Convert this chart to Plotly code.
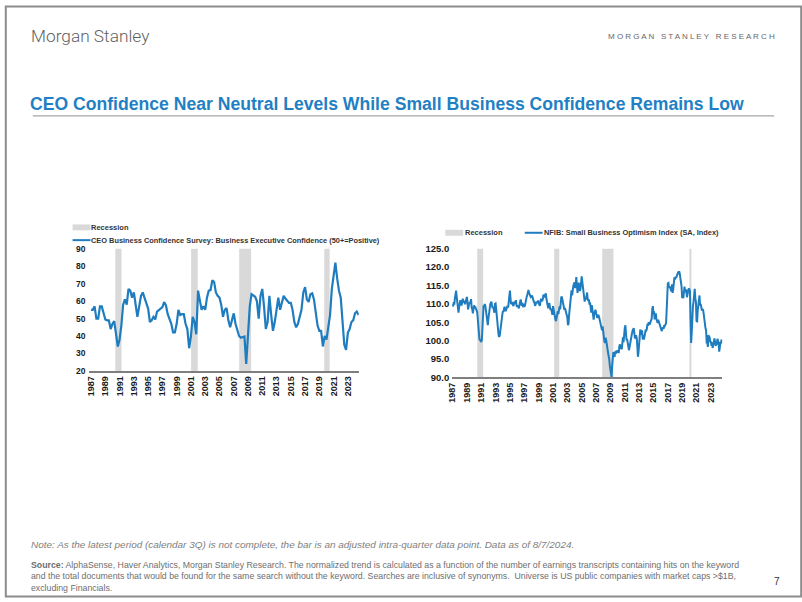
import plotly.graph_objects as go
import pandas as pd

# ---------------- data ----------------
# CEO Business Confidence (quarterly, 1987Q1 ...)
ceo_start = "1987-01-01"
ceo_values = [55, 55, 57, 50, 50, 57, 57, 52.5, 49.5, 49,
              49, 44, 47, 48.5, 42, 34, 38, 46, 58, 61,
              58, 67, 66, 62, 65, 58, 51, 57, 63, 65,
              62, 58.5, 55.7, 48, 49, 51, 49.5, 54, 55, 55.5,
              56.6, 59.5, 57.5, 52.5, 49.5, 47, 42, 42, 47, 55,
              52, 52.5, 52.5, 47, 44, 33, 40, 51, 48, 41,
              66, 61, 55, 57, 55, 62, 66, 66.3, 72, 71,
              65, 63, 62, 58, 51, 55, 56, 49, 45, 49,
              53, 47, 44, 40, 39, 39.3, 39.7, 24, 40, 57,
              64, 63, 62.5, 60, 50, 63, 67, 57, 44, 48,
              63, 52, 43, 48, 54, 62, 55, 60, 63, 61.5,
              60, 59, 59, 55, 48, 45, 47, 52, 55, 65,
              68, 61, 59.5, 64, 64.5, 61, 53, 46, 43, 43,
              34, 40, 38, 44, 52, 67, 76, 82, 73, 66,
              62, 47, 35, 32, 42, 44, 48, 49, 53, 54,
              52]

# NFIB Small Business Optimism Index (monthly, Jan 1987 ...)
nfib_start = "1987-01-01"
nfib_values = [
    110.0, 109.3, 110.5, 109.8, 111.5, 112.2, 113.6, 112.0, 109.5, 108.0, 107.6, 109.0,  # 1987
    110.5, 111.0, 110.2, 109.6, 110.1, 111.4, 111.0, 110.3, 110.8, 109.9, 110.6, 111.2,  # 1988
    111.9, 110.5, 108.5, 109.4, 110.4, 110.0, 110.8, 111.3, 109.0, 108.6, 107.4, 108.4,  # 1989
    109.6, 109.0, 109.3, 108.7, 108.2, 108.0, 106.5, 104.2, 101.6, 100.4, 100.2, 100.0,  # 1990
    99.6, 100.3, 104.5, 107.8, 109.6, 109.2, 110.0, 109.4, 107.5, 106.0, 104.8, 104.2,   # 1991
    106.0, 108.2, 109.2, 109.8, 110.3, 110.6, 109.7, 108.9, 109.2, 108.1, 107.6, 110.0,  # 1992
    110.1, 108.5, 106.5, 104.2, 102.3, 101.6, 101.0, 101.4, 102.8, 104.5, 106.4, 107.4,  # 1993
    108.0, 107.8, 108.6, 109.2, 108.5, 108.0, 108.6, 109.0, 109.5, 109.0, 110.2, 111.4,  # 1994
    113.6, 111.4, 109.9, 110.3, 110.5, 109.7, 109.4, 110.2, 110.6, 110.0, 111.0, 109.6,  # 1995
    109.2, 109.6, 109.0, 108.8, 109.7, 110.6, 111.2, 110.2, 109.5, 110.3, 109.1, 109.9,  # 1996
    109.2, 109.5, 110.8, 111.5, 111.9, 112.4, 113.4, 113.8, 113.0, 112.6, 112.2, 111.8,  # 1997
    111.9, 112.3, 111.6, 111.0, 110.6, 110.4, 109.5, 109.8, 110.6, 110.2, 110.5, 110.9,  # 1998
    110.2, 109.6, 109.5, 110.5, 111.4, 111.0, 110.7, 111.3, 112.5, 112.2, 111.8, 112.6,  # 1999
    112.9, 111.4, 110.5, 109.6, 108.8, 109.8, 110.2, 109.0, 108.3, 108.7, 107.4, 107.0,  # 2000
    109.4, 108.2, 107.0, 106.4, 105.8, 105.3, 106.2, 107.4, 108.0, 107.2, 108.8, 109.3,  # 2001
    108.5, 110.6, 112.0, 111.8, 110.8, 110.2, 109.4, 108.4, 108.9, 107.9, 107.4, 107.0,  # 2002
    106.3, 104.2, 104.6, 107.0, 108.5, 109.8, 111.4, 113.7, 112.3, 114.2, 114.9, 115.4,  # 2003
    115.9, 114.3, 115.0, 117.3, 115.4, 113.0, 114.2, 115.8, 114.6, 113.5, 114.1, 116.2,  # 2004
    117.5, 116.0, 114.3, 113.2, 111.3, 110.6, 111.8, 111.2, 112.0, 113.1, 111.4, 110.8,  # 2005
    111.2, 109.8, 110.4, 108.3, 107.6, 109.7, 108.4, 106.0, 105.7, 107.2, 107.9, 108.4,  # 2006
    107.6, 106.9, 106.2, 106.6, 107.0, 106.5, 105.7, 105.2, 104.5, 103.4, 102.8, 103.9,  # 2007
    102.0, 101.5, 99.8, 99.4, 100.8, 100.1, 98.5, 97.6, 96.8, 95.8, 95.0, 93.2,          # 2008
    91.6, 90.5, 90.0, 93.4, 96.2, 96.9, 96.0, 95.6, 97.1, 96.4, 97.3, 97.0,              # 2009
    96.8, 97.4, 96.6, 98.4, 99.0, 97.8, 98.9, 97.6, 99.8, 100.9, 99.6, 102.6,            # 2010
    103.4, 104.2, 101.3, 100.1, 100.4, 99.1, 98.2, 97.4, 98.2, 98.9, 100.3, 101.0,       # 2011
    101.9, 102.7, 103.0, 103.4, 102.1, 100.6, 100.9, 101.5, 100.7, 98.5, 95.6, 96.8,     # 2012
    98.5, 101.5, 103.0, 102.4, 101.6, 102.8, 100.3, 101.5, 100.3, 101.1, 102.0, 103.0,   # 2013
    102.8, 103.2, 104.6, 104.0, 105.0, 104.7, 104.4, 105.1, 105.5, 105.9, 108.6, 109.4,  # 2014
    107.2, 108.0, 105.8, 106.3, 107.4, 105.9, 105.4, 104.8, 105.7, 105.1, 104.6, 104.1,  # 2015
    104.0, 103.0, 102.6, 103.3, 103.6, 103.2, 104.2, 104.0, 104.4, 104.6, 108.0, 115.4,  # 2016
    115.6, 115.7, 114.4, 114.7, 114.4, 113.8, 113.4, 115.3, 113.0, 113.9, 116.5, 117.2,  # 2017
    116.6, 117.4, 117.1, 117.6, 117.8, 118.5, 118.4, 118.9, 118.2, 117.2, 116.8, 114.8,  # 2018
    111.6, 111.9, 111.6, 113.0, 114.7, 113.2, 113.8, 113.7, 111.8, 112.6, 114.2, 114.2,  # 2019
    114.0, 113.6, 105.8, 99.4, 102.1, 109.0, 109.4, 110.5, 113.3, 114.1, 111.5, 110.6,   # 2020
    105.4, 105.3, 108.1, 109.5, 109.4, 112.3, 109.6, 110.0, 109.1, 108.2, 108.5, 108.4,  # 2021
    107.3, 105.4, 103.6, 103.4, 102.9, 99.6, 99.7, 98.3, 101.5, 101.0, 100.9, 99.6,      # 2022
    99.8, 98.6, 99.5, 98.0, 98.6, 99.8, 100.6, 99.7, 98.6, 99.0, 99.1, 100.5,            # 2023
    99.5, 99.3, 97.0, 98.8, 99.4, 99.4, 100.3,                                           # 2024
]

# Recession shading periods (as drawn in each panel)
ceo_rec_start = ["1990-05-26", "2001-01-10", "2007-10-08", "2019-09-10"]
ceo_rec_end = ["1991-04-10", "2001-12-15", "2009-06-10", "2020-06-10"]
nfib_rec_start = ["1990-06-13", "2001-03-03", "2007-11-10", "2020-01-05"]
nfib_rec_end = ["1991-04-10", "2001-11-15", "2009-06-05", "2020-04-15"]

tick_years = list(range(1987, 2024, 2))
ceo_yticks = [20, 30, 40, 50, 60, 70, 80, 90]
nfib_yticks = [90, 95, 100, 105, 110, 115, 120, 125]

ceo_name = "CEO Business Confidence Survey: Business Executive Confidence (50+=Positive)"
nfib_name = "NFIB: Small Business Optimism Index (SA, Index)"

# ---------------- figure ----------------
W, H = 802, 602
BLUE = "#1f7dbf"
REC = "#d9d9d9"
FONT = "Liberation Sans, Arial, sans-serif"


def px(x):
    return x / W


def py(y):
    return 1 - y / H


ceo_dates = pd.date_range(ceo_start, periods=len(ceo_values), freq="QS")
nfib_dates = pd.date_range(nfib_start, periods=len(nfib_values), freq="MS")

fig = go.Figure()
fig.add_trace(go.Scatter(x=ceo_dates, y=ceo_values, mode="lines", name=ceo_name,
                         line=dict(color=BLUE, width=2.2), xaxis="x", yaxis="y",
                         showlegend=False))
fig.add_trace(go.Scatter(x=nfib_dates, y=nfib_values, mode="lines", name=nfib_name,
                         line=dict(color=BLUE, width=2), xaxis="x2", yaxis="y2",
                         showlegend=False))

shapes = []
for s, e in zip(ceo_rec_start, ceo_rec_end):
    shapes.append(dict(type="rect", xref="x", yref="y domain", x0=s, x1=e, y0=0, y1=1,
                       fillcolor=REC, line_width=0, layer="below"))
for s, e in zip(nfib_rec_start, nfib_rec_end):
    shapes.append(dict(type="rect", xref="x2", yref="y2 domain", x0=s, x1=e, y0=0, y1=1,
                       fillcolor=REC, line_width=0, layer="below"))

# page frame, title rule
shapes.append(dict(type="rect", xref="paper", yref="paper", x0=0.001, x1=0.999, y0=0.001, y1=0.999,
                   line=dict(color="#8c8c8c", width=2), fillcolor="rgba(0,0,0,0)"))
shapes.append(dict(type="line", xref="paper", yref="paper", x0=px(28), x1=px(774), y0=py(112), y1=py(112),
                   line=dict(color="#a6a6a6", width=1.2)))

# legend glyphs (left)
shapes.append(dict(type="rect", xref="paper", yref="paper", x0=px(68), x1=px(86), y0=py(228.5), y1=py(222.5),
                   fillcolor=REC, line_width=0))
shapes.append(dict(type="line", xref="paper", yref="paper", x0=px(68), x1=px(86), y0=py(238.5), y1=py(238.5),
                   line=dict(color=BLUE, width=2)))
# legend glyphs (right)
shapes.append(dict(type="rect", xref="paper", yref="paper", x0=px(443), x1=px(461), y0=py(234), y1=py(228),
                   fillcolor=REC, line_width=0))
shapes.append(dict(type="line", xref="paper", yref="paper", x0=px(523), x1=px(541), y0=py(231), y1=py(231),
                   line=dict(color=BLUE, width=2)))

ann = []
LPAD = 4  # annotation box inner padding compensation


def add_text(text, x, y, size, color, xanchor="left", yanchor="middle", family=FONT, align="left", weight=None):
    if xanchor == "left":
        x = x - LPAD
    f = dict(family=family, size=size, color=color)
    if weight is not None:
        f["weight"] = weight
    ann.append(dict(text=text, x=px(x), y=py(y), xref="paper", yref="paper",
                    xanchor=xanchor, yanchor=yanchor, align=align, showarrow=False, font=f))


add_text("Morgan Stanley", 28, 31, 17.3, "#5f5f5f", family="Roboto, sans-serif", weight=300)
spaced = "\u00a0\u00a0\u00a0".join(" ".join(w) for w in ["MORGAN", "STANLEY", "RESEARCH"])
add_text(spaced, 777, 31.5, 8, "#666666", xanchor="right")
add_text("<b>CEO Confidence Near Neutral Levels While Small Business Confidence Remains Low</b>",
         27.5, 99.5, 17.6, "#1f80c4")
add_text("<b>Recession</b>", 89, 225.5, 7.5, "#333333")
add_text("<b>" + ceo_name + "</b>", 89, 238.5, 7.4, "#333333")
add_text("<b>Recession</b>", 465, 231, 7.5, "#333333")
add_text("<b>" + nfib_name + "</b>", 544, 231, 7.4, "#333333")
add_text("<i>Note: As the latest period (calendar 3Q) is not complete, the bar is an adjusted intra-quarter data point. Data as of 8/7/2024.</i>",
         28, 549, 9.95, "#808080")
add_text("<b>Source:</b> AlphaSense, Haver Analytics, Morgan Stanley Research. The normalized trend is calculated as a function of the number of earnings transcripts containing hits on the keyword"
         "<br>and the total documents that would be found for the same search without the keyword. Searches are inclusive of synonyms.  Universe is US public companies with market caps >$1B,"
         "<br>excluding Financials.",
         28, 562.5, 8.75, "#6e6e6e", yanchor="top")
add_text("7", 777, 586, 10, "#333333", xanchor="center")

tickfont_y = dict(family=FONT, size=8.5, color="#1a1a1a", weight="bold")
tickfont_y2 = dict(family=FONT, size=9.5, color="#1a1a1a", weight="bold")
tickfont_x = dict(family=FONT, size=9, color="#1a1a1a", weight="bold")

fig.update_layout(
    width=W, height=H, margin=dict(l=0, r=0, t=0, b=0),
    paper_bgcolor="white", plot_bgcolor="white",
    shapes=shapes, annotations=ann, showlegend=False,
    xaxis=dict(domain=[px(85), px(356)], range=["1986-10-12", "2024-07-12"], type="date",
               tickvals=[f"{y}-01-01" for y in tick_years], ticktext=[str(y) for y in tick_years],
               tickangle=-90, tickfont=tickfont_x, showgrid=False, zeroline=False,
               showline=True, linecolor="#7f7f7f", linewidth=1.5, ticks="", anchor="y"),
    yaxis=dict(domain=[py(371.7), py(247.3)], range=[20, 90], tickvals=ceo_yticks,
               tickfont=tickfont_y, showgrid=False, zeroline=False, showline=False, ticks="",
               ticklabelstandoff=3, anchor="x"),
    xaxis2=dict(domain=[px(450), px(722)], range=["1986-12-15", "2024-08-15"], type="date",
                tickvals=[f"{y}-01-01" for y in tick_years], ticktext=[str(y) for y in tick_years],
                tickangle=-90, tickfont=tickfont_x, showgrid=False, zeroline=False,
                showline=True, linecolor="#7f7f7f", linewidth=1.5, ticks="", anchor="y2"),
    yaxis2=dict(domain=[py(378.3), py(247.3)], range=[90, 125], tickvals=nfib_yticks,
                tickformat=".1f", tickfont=tickfont_y2, showgrid=False, zeroline=False,
                showline=False, ticks="", ticklabelstandoff=2, anchor="x2"),
)

fig.write_html("out.html", config={"displayModeBar": False},
               post_script="document.body.style.margin='0';document.body.style.overflow='hidden';")
